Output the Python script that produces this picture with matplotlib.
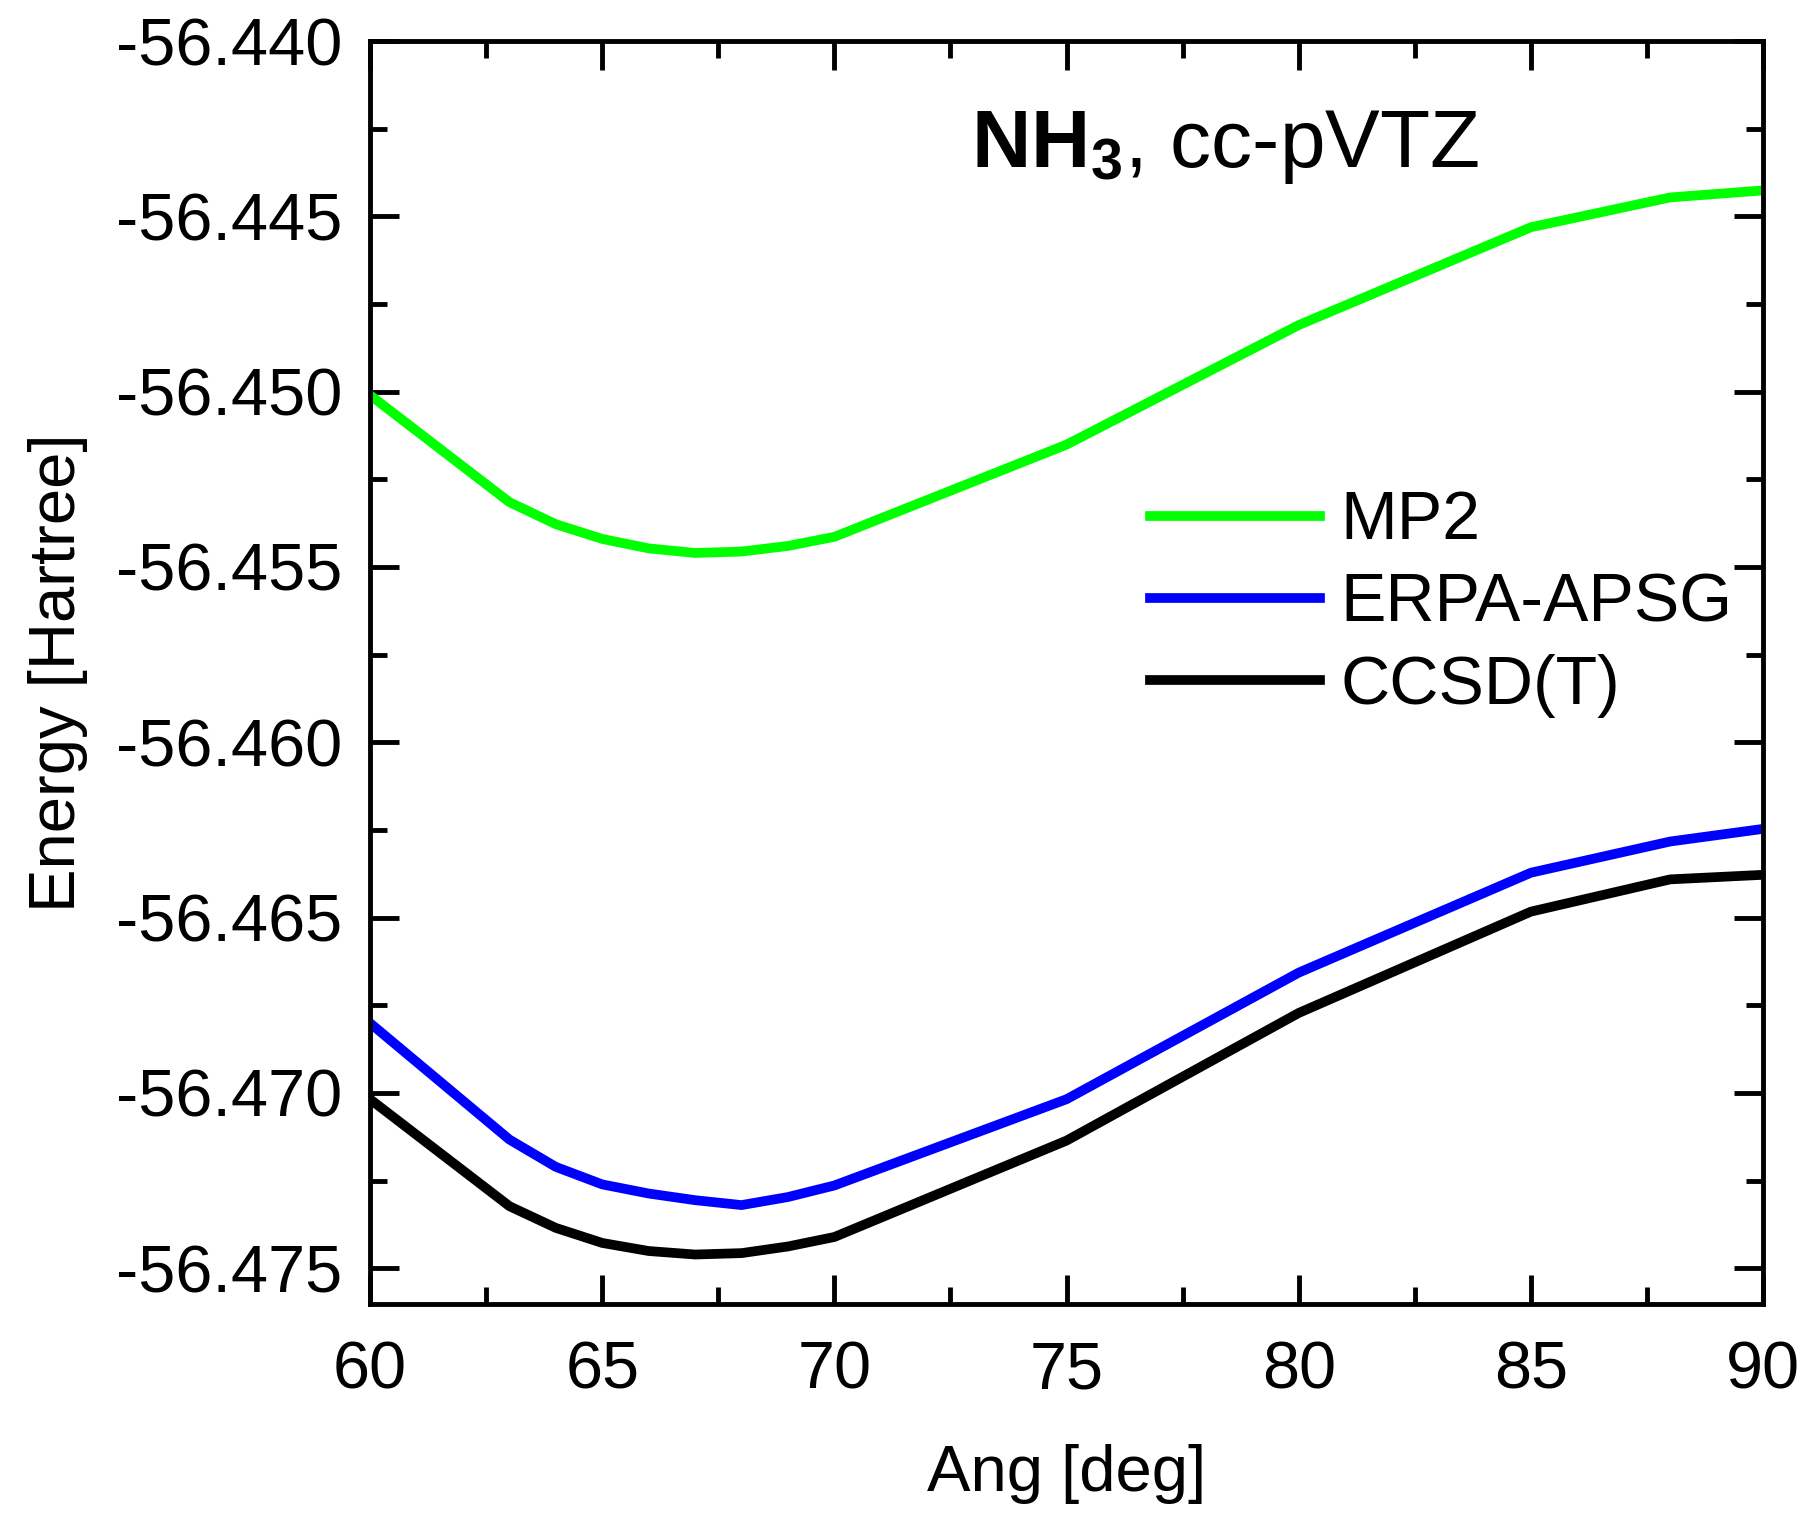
import numpy as np
import matplotlib
matplotlib.use('Agg')
import matplotlib.pyplot as plt
from matplotlib.ticker import MultipleLocator, FormatStrFormatter

# Data
ang = [60, 63, 64, 65, 66, 67, 68, 69, 70, 75, 80, 85, 88, 90]
mp2 = [-56.45010, -56.45315, -56.45378, -56.45420, -56.45447, -56.45460,
       -56.45456, -56.45440, -56.45414, -56.45151, -56.44810, -56.44531,
       -56.44446, -56.44426]
erpa = [-56.46801, -56.47133, -56.47211, -56.47261, -56.47287, -56.47306,
        -56.47320, -56.47297, -56.47264, -56.47018, -56.46657, -56.46372,
        -56.46283, -56.46247]
ccsdt = [-56.47018, -56.47323, -56.47385, -56.47428, -56.47451, -56.47461,
         -56.47457, -56.47438, -56.47411, -56.47136, -56.46772, -56.46483,
         -56.46391, -56.46378]

plt.rcParams['font.family'] = ['Liberation Sans', 'DejaVu Sans']
plt.rcParams['mathtext.fontset'] = 'custom'
plt.rcParams['mathtext.rm'] = 'Liberation Sans'
plt.rcParams['mathtext.bf'] = 'Liberation Sans:bold'
plt.rcParams['axes.unicode_minus'] = False

fig = plt.figure(figsize=(18.07, 15.15), dpi=100)
ax = fig.add_axes([0.2048, 0.1393, 0.7709, 0.8336])

ax.plot(ang, mp2, color='#00ff00', lw=7, label='MP2')
ax.plot(ang, erpa, color='#0000ff', lw=7, label='ERPA-APSG')
ax.plot(ang, ccsdt, color='black', lw=7, label='CCSD(T)')

ax.set_xlim(60, 90)
ax.set_ylim(-56.47602, -56.4400)
ax.xaxis.set_major_locator(MultipleLocator(5))
ax.xaxis.set_minor_locator(MultipleLocator(2.5))
ax.yaxis.set_major_locator(MultipleLocator(0.005))
ax.yaxis.set_minor_locator(MultipleLocator(0.0025))
ax.yaxis.set_major_formatter(FormatStrFormatter('%.3f'))

for s in ax.spines.values():
    s.set_linewidth(3.5)
ax.tick_params(which='both', direction='in', top=True, right=True, width=3.5)
ax.tick_params(which='major', length=21, labelsize=48)
ax.tick_params(axis='x', which='major', pad=26)
ax.tick_params(axis='y', which='major', pad=20)
ax.tick_params(which='minor', length=12)

ax.set_xlabel('Ang [deg]', fontsize=47, labelpad=30)
ax.set_ylabel('Energy [Hartree]', fontsize=47, labelpad=20)

ax.text(0.614, 0.900, r'$\mathbf{NH_3}$, cc-pVTZ', transform=ax.transAxes,
        fontsize=59, ha='center', va='baseline')

ax.legend(loc='upper left', bbox_to_anchor=(0.56, 0.645), frameon=False,
          fontsize=49, handlelength=2.5, handletextpad=0.3,
          labelspacing=0.27, borderpad=0, borderaxespad=0)

fig.savefig('out.png', dpi=100)
